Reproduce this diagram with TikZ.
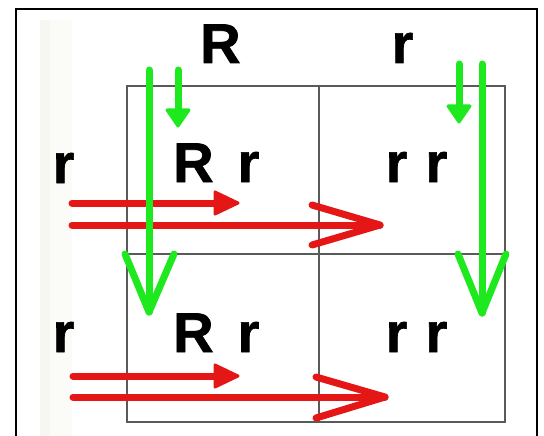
\documentclass[tikz,border=0pt]{standalone}
\usepackage{fontspec}
\setmainfont{Liberation Sans}[BoldFeatures={FakeBold=1.2}]
\definecolor{grn}{RGB}{30,232,30}
\definecolor{rd}{RGB}{228,22,22}
\definecolor{gridc}{RGB}{90,90,90}
\definecolor{strip}{RGB}{247,247,241}
\definecolor{strip2}{RGB}{251,251,248}
\begin{document}
\begin{tikzpicture}[x=1pt,y=-1pt,
  lbl/.style={inner sep=0pt,anchor=base west,font=\fontsize{56}{60}\selectfont\bfseries},
  gridline/.style={draw=gridc,line width=1.5pt},
  garrow/.style={draw=grn,line width=7pt,line cap=round,line join=round},
  rarrow/.style={draw=rd,line width=7pt,line cap=round,line join=round},
  ghead/.style={fill=grn,draw=grn,line width=3pt,line join=round},
  rhead/.style={fill=rd,draw=rd,line width=3pt,line join=round}]
\useasboundingbox (0,0) rectangle (544,436);
\fill[white] (0,0) rectangle (544,436);
% faint strip
\fill[strip2] (50,20) rectangle (72,436);
\fill[strip] (40,20) rectangle (50,436);
% outer frame
\draw[line width=2.2pt,black] (16,445) -- (16,9) -- (537,9) -- (537,445);
% grid
\coordinate (g00) at (127,86);
\coordinate (g22) at (505,422);
\draw[gridline] (g00) rectangle (g22);
\draw[gridline] (319,86) -- (319,422);
\draw[gridline] (127,254) -- (505,254);
% labels
\node[lbl] (topR) at (200,63) {R};
\node[lbl] (topr) at (391.5,63) {r};
\node[lbl] (row1) at (52.5,183) {r};
\node[lbl] (row2) at (52.5,352) {r};
\node[lbl] (c11) at (173,182) {R\hspace{24pt}r};
\node[lbl] (c12) at (385.5,182) {r\hspace{18pt}r};
\node[lbl] (c21) at (173,352) {R\hspace{24pt}r};
\node[lbl] (c22) at (385.5,352) {r\hspace{18pt}r};
% red arrows row 1
\coordinate (ra1s) at (72,203);
\coordinate (ra1e) at (226,203);
\coordinate (ra1t) at (238,203);
\draw[rarrow] (ra1s) -- (ra1e);
\filldraw[rhead] (215,192) -- (ra1t) -- (215,214) -- cycle;
\coordinate (rb1s) at (72,225);
\coordinate (rb1t) at (380,225);
\draw[rarrow] (rb1s) -- (rb1t);
\draw[rarrow] (312,205) -- (rb1t) -- (312,245);
% red arrows row 2
\coordinate (ra2s) at (73,376);
\coordinate (ra2e) at (226,376);
\coordinate (ra2t) at (238,376);
\draw[rarrow] (ra2s) -- (ra2e);
\filldraw[rhead] (215,365) -- (ra2t) -- (215,387) -- cycle;
\coordinate (rb2s) at (73,397);
\coordinate (rb2t) at (385,397);
\draw[rarrow] (rb2s) -- (rb2t);
\draw[rarrow] (316,377) -- (rb2t) -- (316,418);
% green arrows left
\coordinate (gl1s) at (149,70);
\coordinate (gl1t) at (149,312);
\draw[garrow] (gl1s) -- (gl1t);
\draw[garrow] (125,254) -- (gl1t) -- (174,254);
\coordinate (gl2s) at (178,70);
\coordinate (gl2e) at (178,112);
\coordinate (gl2t) at (178,126);
\draw[garrow] (gl2s) -- (gl2e);
\filldraw[ghead] (167,110) -- (gl2t) -- (189,110) -- cycle;
% green arrows right
\coordinate (gr2s) at (459,64);
\coordinate (gr2e) at (459,108);
\coordinate (gr2t) at (459,122);
\draw[garrow] (gr2s) -- (gr2e);
\filldraw[ghead] (448,106) -- (gr2t) -- (470,106) -- cycle;
\coordinate (gr1s) at (482,64);
\coordinate (gr1t) at (482,313);
\draw[garrow] (gr1s) -- (gr1t);
\draw[garrow] (458,254) -- (gr1t) -- (506,254);
\end{tikzpicture}
\end{document}
